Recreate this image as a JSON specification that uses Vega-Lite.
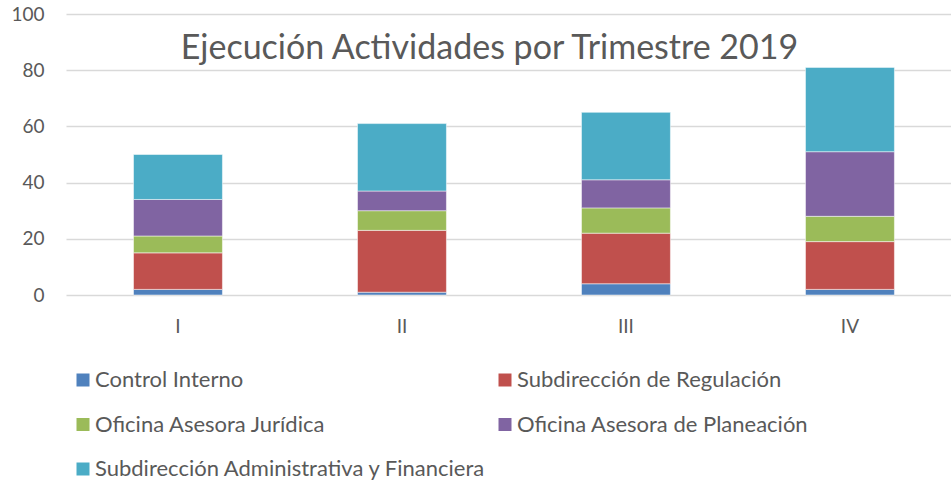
{
  "$schema": "https://vega.github.io/schema/vega-lite/v6.json",
  "autosize": "none",
  "width": 885,
  "height": 281,
  "padding": {"left": 66, "top": 14, "right": 0, "bottom": 188},
  "background": "white",
  "title": {
    "text": "Ejecución Actividades por Trimestre 2019",
    "anchor": "middle",
    "frame": "group",
    "font": "Lato",
    "fontSize": 34,
    "fontWeight": "normal",
    "color": "#595959",
    "baseline": "middle",
    "offset": 0,
    "dx": -19,
    "dy": 78
  },
  "data": {
    "values": [
      {"trimestre": "I", "area": "Control Interno", "orden": 1, "valor": 2},
      {"trimestre": "I", "area": "Subdirección de Regulación", "orden": 2, "valor": 13},
      {"trimestre": "I", "area": "Oficina Asesora Jurídica", "orden": 3, "valor": 6},
      {"trimestre": "I", "area": "Oficina Asesora de Planeación", "orden": 4, "valor": 13},
      {"trimestre": "I", "area": "Subdirección Administrativa y Financiera", "orden": 5, "valor": 16},
      {"trimestre": "II", "area": "Control Interno", "orden": 1, "valor": 1},
      {"trimestre": "II", "area": "Subdirección de Regulación", "orden": 2, "valor": 22},
      {"trimestre": "II", "area": "Oficina Asesora Jurídica", "orden": 3, "valor": 7},
      {"trimestre": "II", "area": "Oficina Asesora de Planeación", "orden": 4, "valor": 7},
      {"trimestre": "II", "area": "Subdirección Administrativa y Financiera", "orden": 5, "valor": 24},
      {"trimestre": "III", "area": "Control Interno", "orden": 1, "valor": 4},
      {"trimestre": "III", "area": "Subdirección de Regulación", "orden": 2, "valor": 18},
      {"trimestre": "III", "area": "Oficina Asesora Jurídica", "orden": 3, "valor": 9},
      {"trimestre": "III", "area": "Oficina Asesora de Planeación", "orden": 4, "valor": 10},
      {"trimestre": "III", "area": "Subdirección Administrativa y Financiera", "orden": 5, "valor": 24},
      {"trimestre": "IV", "area": "Control Interno", "orden": 1, "valor": 2},
      {"trimestre": "IV", "area": "Subdirección de Regulación", "orden": 2, "valor": 17},
      {"trimestre": "IV", "area": "Oficina Asesora Jurídica", "orden": 3, "valor": 9},
      {"trimestre": "IV", "area": "Oficina Asesora de Planeación", "orden": 4, "valor": 23},
      {"trimestre": "IV", "area": "Subdirección Administrativa y Financiera", "orden": 5, "valor": 30}
    ]
  },
  "mark": {"type": "bar", "stroke": "white", "strokeWidth": 0.5},
  "encoding": {
    "x": {
      "field": "trimestre",
      "type": "nominal",
      "sort": ["I", "II", "III", "IV"],
      "scale": {"paddingInner": 0.603, "paddingOuter": 0.277, "align": 0.544},
      "axis": {
        "title": null,
        "labelAngle": 0,
        "labelFont": "Lato",
        "labelFontSize": 19,
        "labelColor": "#595959",
        "labelPadding": 22,
        "ticks": false,
        "domain": false
      }
    },
    "y": {
      "field": "valor",
      "type": "quantitative",
      "aggregate": "sum",
      "stack": "zero",
      "scale": {"domain": [0, 100]},
      "axis": {
        "title": null,
        "values": [0, 20, 40, 60, 80, 100],
        "labelFont": "Lato",
        "labelFontSize": 19,
        "labelColor": "#595959",
        "labelPadding": 22,
        "ticks": false,
        "domain": false,
        "gridColor": "#d9d9d9",
        "gridWidth": 1.5
      }
    },
    "color": {
      "field": "area",
      "type": "nominal",
      "sort": ["Control Interno", "Subdirección de Regulación", "Oficina Asesora Jurídica", "Oficina Asesora de Planeación", "Subdirección Administrativa y Financiera"],
      "scale": {
        "domain": ["Control Interno", "Subdirección de Regulación", "Oficina Asesora Jurídica", "Oficina Asesora de Planeación", "Subdirección Administrativa y Financiera"],
        "range": ["#4F81BD", "#C0504D", "#9BBB59", "#8064A2", "#4BACC6"]
      },
      "legend": {
        "title": null,
        "orient": "none",
        "legendX": 6,
        "legendY": 355,
        "direction": "horizontal",
        "columns": 2,
        "columnPadding": 7,
        "rowPadding": 22.5,
        "symbolType": "square",
        "symbolSize": 169,
        "symbolStrokeWidth": 0,
        "symbolOpacity": 1,
        "labelFont": "Lato",
        "labelFontSize": 22,
        "labelColor": "#595959",
        "labelLimit": 600,
        "labelOffset": 1
      }
    },
    "order": {"field": "orden", "type": "quantitative", "sort": "ascending"}
  },
  "config": {"view": {"stroke": null}}
}
